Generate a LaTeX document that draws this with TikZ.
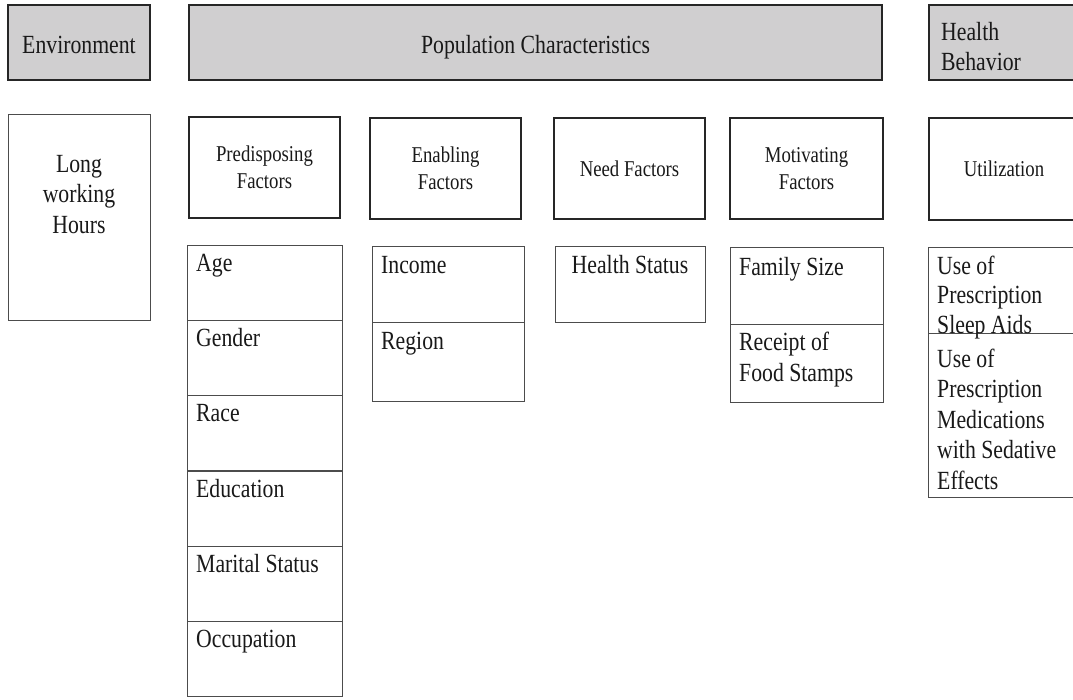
\documentclass[tikz,border=0pt]{standalone}
\usepackage{fontspec}
\setmainfont{Liberation Serif}[FakeStretch=0.83]
\definecolor{hdrgray}{RGB}{208,207,208}
\definecolor{ink}{RGB}{25,25,25}
\begin{document}
\begin{tikzpicture}[x=1pt,y=-1pt,
  topbox/.style={draw=black!85, line width=1.6pt, fill=hdrgray, inner sep=0, align=center, font=\fontsize{26.2}{30.5}\selectfont, text=ink},
  facbox/.style={draw=black!85, line width=1.6pt, fill=white, inner sep=0, align=center, font=\fontsize{22.6}{27.5}\selectfont, text=ink},
  cell/.style={draw=black!70, line width=1pt, fill=white, inner sep=0},
  celltext/.style={anchor=north west, inner sep=0, align=left, font=\fontsize{26.2}{30.5}\selectfont, text=ink},
  ctrtext/.style={anchor=north, inner sep=0, align=center, font=\fontsize{26.2}{30.5}\selectfont, text=ink}]
\useasboundingbox (0,0) rectangle (1073,700);
\fill[white] (0,0) rectangle (1073,700);

% top row
\node[topbox, minimum width=142, minimum height=75, text height=22pt, text depth=0pt] (env) at (79,42.5) {Environment};
\node[topbox, minimum width=693, minimum height=75, text height=22pt, text depth=0pt] (pop) at (535.5,42.5) {Population Characteristics};
\node[topbox, minimum width=150, minimum height=75] (hb) at (1004,42.5) {};
\node[celltext] (hbt) at (941,18.65) {\strut Health\\Behavior};

% second row
\node[cell, minimum width=142, minimum height=206] (lwh) at (79,218) {};
\node[ctrtext] (lwht) at (79,150.65) {\strut Long\\working\\Hours};
\node[facbox, minimum width=151, minimum height=101] (pre) at (264.5,167.5) {Predisposing\\Factors};
\node[facbox, minimum width=151, minimum height=101] (ena) at (445.5,168.5) {Enabling\\Factors};
\node[facbox, minimum width=151, minimum height=101, text height=17pt, text depth=0pt] (need) at (629.5,168.5) {Need Factors};
\node[facbox, minimum width=153, minimum height=101] (mot) at (806.5,168.5) {Motivating\\Factors};
\node[facbox, minimum width=150, minimum height=102, text height=16pt, text depth=0pt] (uti) at (1004,169) {Utilization};

% predisposing list
\node[cell, minimum width=155, minimum height=75.33] (age) at (264.5,282.67) {};
\node[cell, minimum width=155, minimum height=75.33] (gen) at (264.5,358) {};
\node[cell, minimum width=155, minimum height=75.33] (race) at (264.5,433.33) {};
\node[cell, minimum width=155, minimum height=75.33] (edu) at (264.5,508.67) {};
\node[cell, minimum width=155, minimum height=75.33] (mar) at (264.5,584) {};
\node[cell, minimum width=155, minimum height=75.33] (occ) at (264.5,659.33) {};
\node[celltext] (aget) at (196,249.65) {\strut Age};
\node[celltext] (gent) at (196,325) {\strut Gender};
\node[celltext] (racet) at (196,400.3) {\strut Race};
\node[celltext] (edut) at (196,475.65) {\strut Education};
\node[celltext] (mart) at (196,551) {\strut Marital Status};
\node[celltext] (occt) at (196,626.3) {\strut Occupation};

% enabling list
\node[cell, minimum width=152, minimum height=76] (inc) at (448,285) {};
\node[cell, minimum width=152, minimum height=78] (reg) at (448,362) {};
\node[celltext] (inct) at (381,251.65) {\strut Income};
\node[celltext] (regt) at (381,327.65) {\strut Region};

% need list
\node[cell, minimum width=150, minimum height=76] (hs) at (630,285) {};
\node[ctrtext] (hst) at (630,251.65) {\strut Health Status};

% motivating list
\node[cell, minimum width=153, minimum height=77] (fam) at (806.5,286.5) {};
\node[cell, minimum width=153, minimum height=77] (food) at (806.5,363.5) {};
\node[celltext] (famt) at (739,253.65) {\strut Family Size};
\node[celltext] (foodt) at (739,329.35) {\strut Receipt of\\Food Stamps};

% utilization list
\node[cell, minimum width=152, minimum height=86] (sleep) at (1004,291) {};
\node[cell, minimum width=152, minimum height=163] (sed) at (1004,415.5) {};
\node[celltext, font=\fontsize{26.2}{29.5}\selectfont] (sleept) at (937,253.35) {\strut Use of\\Prescription\\Sleep Aids};
\node[celltext] (sedt) at (937,345.65) {\strut Use of\\Prescription\\Medications\\with Sedative\\Effects};
\end{tikzpicture}
\end{document}
